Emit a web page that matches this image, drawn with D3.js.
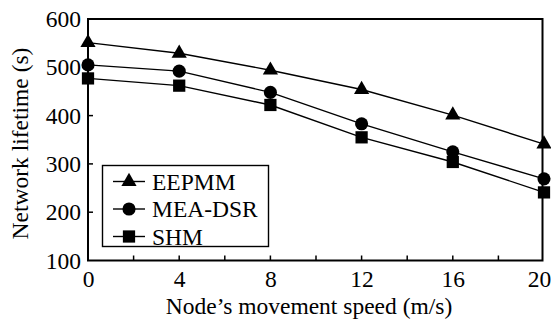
<!DOCTYPE html>
<html><head><meta charset="utf-8">
<script src="https://cdn.jsdelivr.net/npm/d3@7"></script>
<style>body{margin:0;background:#fff}text{font-family:"Liberation Serif","Times New Roman",serif;fill:#000}</style>
</head><body><svg id="c" width="551" height="322"></svg>
<script>
const speeds = [0, 4, 8, 12, 16, 20];
const eepmm  = [551, 529, 494, 454, 401, 341];
const meadsr = [505, 492, 448, 383, 325, 269];
const shm    = [477, 462, 422, 355, 304, 241];
const seriesNames = ["EEPMM", "MEA-DSR", "SHM"];
const xTicks = [0, 4, 8, 12, 16, 20];
const xMinor = [2, 6, 10, 14, 18];
const yTicks = [100, 200, 300, 400, 500, 600];

const svg = d3.select("#c");
const L = 88, R = 542.5, T = 19, B = 260.5;
const x = d3.scaleLinear().domain([0, 20]).range([L, 544]);
const y = d3.scaleLinear().domain([100, 600]).range([B, T]);
const FS = 23.5;

// frame
svg.append("rect").attr("x", L).attr("y", T).attr("width", R - L).attr("height", B - T)
  .attr("fill", "none").attr("stroke", "#000").attr("stroke-width", 2);

// x axis ticks (inward)
const gx = svg.append("g").attr("transform", `translate(0,${B})`)
  .call(d3.axisBottom(x).tickValues(xTicks).tickSize(0).tickPadding(10).tickFormat(d3.format("d")));
gx.select(".domain").remove();
gx.attr("font-family", null);
gx.selectAll("text").attr("font-size", FS).attr("dy", "0.71em")
  .attr("dx", d => d === 20 ? -5 : 0);
svg.selectAll(".xt").data(xTicks.filter(d => d > 0 && d < 20).concat(xMinor)).enter().append("line")
  .attr("x1", d => x(d)).attr("x2", d => x(d)).attr("y1", B).attr("y2", B - 5)
  .attr("stroke", "#000").attr("stroke-width", 1.5);

// y axis
const gy = svg.append("g").attr("transform", `translate(${L},0)`)
  .call(d3.axisLeft(y).tickValues(yTicks).tickSize(0).tickPadding(7).tickFormat(d3.format("d")));
gy.select(".domain").remove();
gy.attr("font-family", null);
gy.selectAll("text").attr("font-size", FS);
svg.selectAll(".yt").data(yTicks.filter(d => d > 100 && d < 600)).enter().append("line")
  .attr("x1", L).attr("x2", L + 5).attr("y1", d => y(d)).attr("y2", d => y(d))
  .attr("stroke", "#000").attr("stroke-width", 1.5);

// axis titles
svg.append("text").attr("x", 309).attr("y", 314).attr("text-anchor", "middle")
  .attr("font-size", FS).text("Node’s movement speed (m/s)");
svg.append("text").attr("transform", "translate(28,143.5) rotate(-90)").attr("text-anchor", "middle")
  .attr("font-size", FS).text("Network lifetime (s)");

// series
const symbols = [d3.symbolTriangle, d3.symbolCircle, d3.symbolSquare];
const sizes = [100, 135, 150];
const data = [eepmm, meadsr, shm];
const line = d3.line().x((d, i) => x(speeds[i])).y(d => y(d));
data.forEach((vals, k) => {
  svg.append("path").datum(vals).attr("d", line).attr("fill", "none").attr("stroke", "#000").attr("stroke-width", 1.4);
  svg.selectAll(".m" + k).data(vals).enter().append("path")
    .attr("transform", (d, i) => `translate(${x(speeds[i])},${y(d)})`)
    .attr("d", d3.symbol().type(symbols[k]).size(sizes[k])).attr("fill", "#000");
});

// legend
const lg = svg.append("g");
lg.append("rect").attr("x", 102.5).attr("y", 165.5).attr("width", 166).attr("height", 81)
  .attr("fill", "#fff").attr("stroke", "#000").attr("stroke-width", 1.4);
const ly = [181.5, 209, 236.5];
seriesNames.forEach((name, k) => {
  lg.append("line").attr("x1", 113).attr("x2", 145).attr("y1", ly[k]).attr("y2", ly[k])
    .attr("stroke", "#000").attr("stroke-width", 1.4);
  lg.append("path").attr("transform", `translate(129,${ly[k]})`)
    .attr("d", d3.symbol().type(symbols[k]).size(sizes[k])).attr("fill", "#000");
  lg.append("text").attr("x", 152).attr("y", ly[k]).attr("dy", "0.35em").attr("font-size", FS).text(name);
});
</script></body></html>
